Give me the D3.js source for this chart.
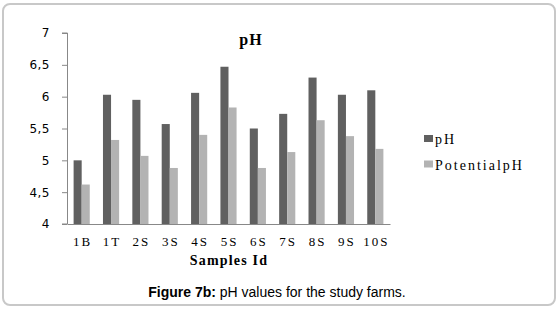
<!DOCTYPE html>
<html>
<head>
<meta charset="utf-8">
<script src="https://cdn.jsdelivr.net/npm/d3@7"></script>
<style>
    body { margin: 0; background: #fff; }
    svg { display: block; }
</style>
</head>
<body>
<div id="chart"></div>
<script>
// data
let samples = ["1B", "1T", "2S", "3S", "4S", "5S", "6S", "7S", "8S", "9S", "10S"];
let phValues = [5.00, 6.03, 5.95, 5.57, 6.06, 6.47, 5.50, 5.73, 6.30, 6.03, 6.10];
let potentialValues = [4.62, 5.32, 5.07, 4.88, 5.40, 5.83, 4.88, 5.13, 5.63, 5.38, 5.18];
let yTicks = [4, 4.5, 5, 5.5, 6, 6.5, 7];
let seriesNames = ["pH", "PotentialpH"];
let seriesColors = ["#606060", "#b3b3b3"];

let width = 559, height = 310;
let margin = {top: 33, right: 169, bottom: 86, left: 67};

let svg = d3.select("#chart").append("svg")
    .attr("width", width)
    .attr("height", height);

// outer frame
svg.append("rect")
    .attr("x", 3).attr("y", 4)
    .attr("width", 552).attr("height", 301)
    .attr("rx", 7)
    .attr("fill", "none")
    .attr("stroke", "#c8c8c8")
    .attr("stroke-width", 2);

let g = svg.append("g")
    .attr("transform", `translate(${margin.left}, ${margin.top})`);

let w = width - margin.left - margin.right;
let h = height - margin.top - margin.bottom;

let x = d3.scaleBand().domain(samples).range([0, w]).paddingInner(0.45).paddingOuter(0.225);
let x1 = d3.scaleBand().domain(seriesNames).range([0, x.bandwidth()]);
let y = d3.scaleLinear().domain([4, 7]).range([h, 0]);

// y axis
let yAxis = g.append("g")
    .call(d3.axisLeft(y).tickValues(yTicks).tickSize(5).tickPadding(12)
        .tickFormat(d => String(d).replace(".", ",")));
yAxis.select(".domain").attr("stroke", "#888").attr("d", `M-5,${h}H0.5V0H-5`);
yAxis.selectAll(".tick line").attr("stroke", "#888");
yAxis.selectAll(".tick text")
    .attr("fill", "#000")
    .style("font-family", "DejaVu Sans, sans-serif")
    .style("font-size", "12px")
    .style("letter-spacing", "0.5px");

// bars
let groups = g.selectAll("g.group")
    .data(samples.map((s, i) => ({s, vals: [phValues[i], potentialValues[i]]})))
    .enter().append("g")
    .attr("class", "group")
    .attr("transform", d => `translate(${x(d.s)}, 0)`);

groups.selectAll("rect")
    .data(d => d.vals.map((v, k) => ({v, k})))
    .enter().append("rect")
    .attr("x", d => x1(seriesNames[d.k]))
    .attr("y", d => y(d.v))
    .attr("width", x1.bandwidth())
    .attr("height", d => h - y(d.v))
    .attr("fill", d => seriesColors[d.k]);

// x axis
let xAxis = g.append("g")
    .attr("transform", `translate(0, ${h})`)
    .call(d3.axisBottom(x).tickSize(0).tickPadding(13));
xAxis.select(".domain").attr("stroke", "#888");
xAxis.selectAll(".tick text")
    .attr("fill", "#000")
    .attr("dx", "1px")
    .style("font-family", "Liberation Serif, serif")
    .style("font-size", "13px")
    .style("letter-spacing", "2px");

// titles
svg.append("text")
    .attr("x", 251).attr("y", 45)
    .attr("text-anchor", "middle")
    .style("font-family", "Liberation Serif, serif")
    .style("font-weight", "bold")
    .style("font-size", "16px")
    .style("letter-spacing", "1px")
    .text("pH");

svg.append("text")
    .attr("x", 229).attr("y", 265)
    .attr("text-anchor", "middle")
    .style("font-family", "Liberation Serif, serif")
    .style("font-weight", "bold")
    .style("font-size", "14px")
    .style("letter-spacing", "1.2px")
    .text("Samples Id");

// legend
let legend = svg.append("g")
    .attr("transform", "translate(424, 135)");
seriesNames.forEach((name, i) => {
    let item = legend.append("g").attr("transform", `translate(0, ${i * 25.5})`);
    item.append("rect")
        .attr("width", 9).attr("height", 7)
        .attr("fill", seriesColors[i]);
    item.append("text")
        .attr("x", 11).attr("y", 9)
        .style("font-family", "Liberation Serif, serif")
        .style("font-size", "14px")
        .style("letter-spacing", "2px")
        .text(name);
});

// caption
let caption = svg.append("text")
    .attr("x", 277).attr("y", 297)
    .attr("text-anchor", "middle")
    .style("font-family", "Liberation Sans, Arial, sans-serif")
    .style("font-size", "14px");
caption.append("tspan").style("font-weight", "bold").text("Figure 7b:");
caption.append("tspan").text(" pH values for the study farms.");
</script>
</body>
</html>
